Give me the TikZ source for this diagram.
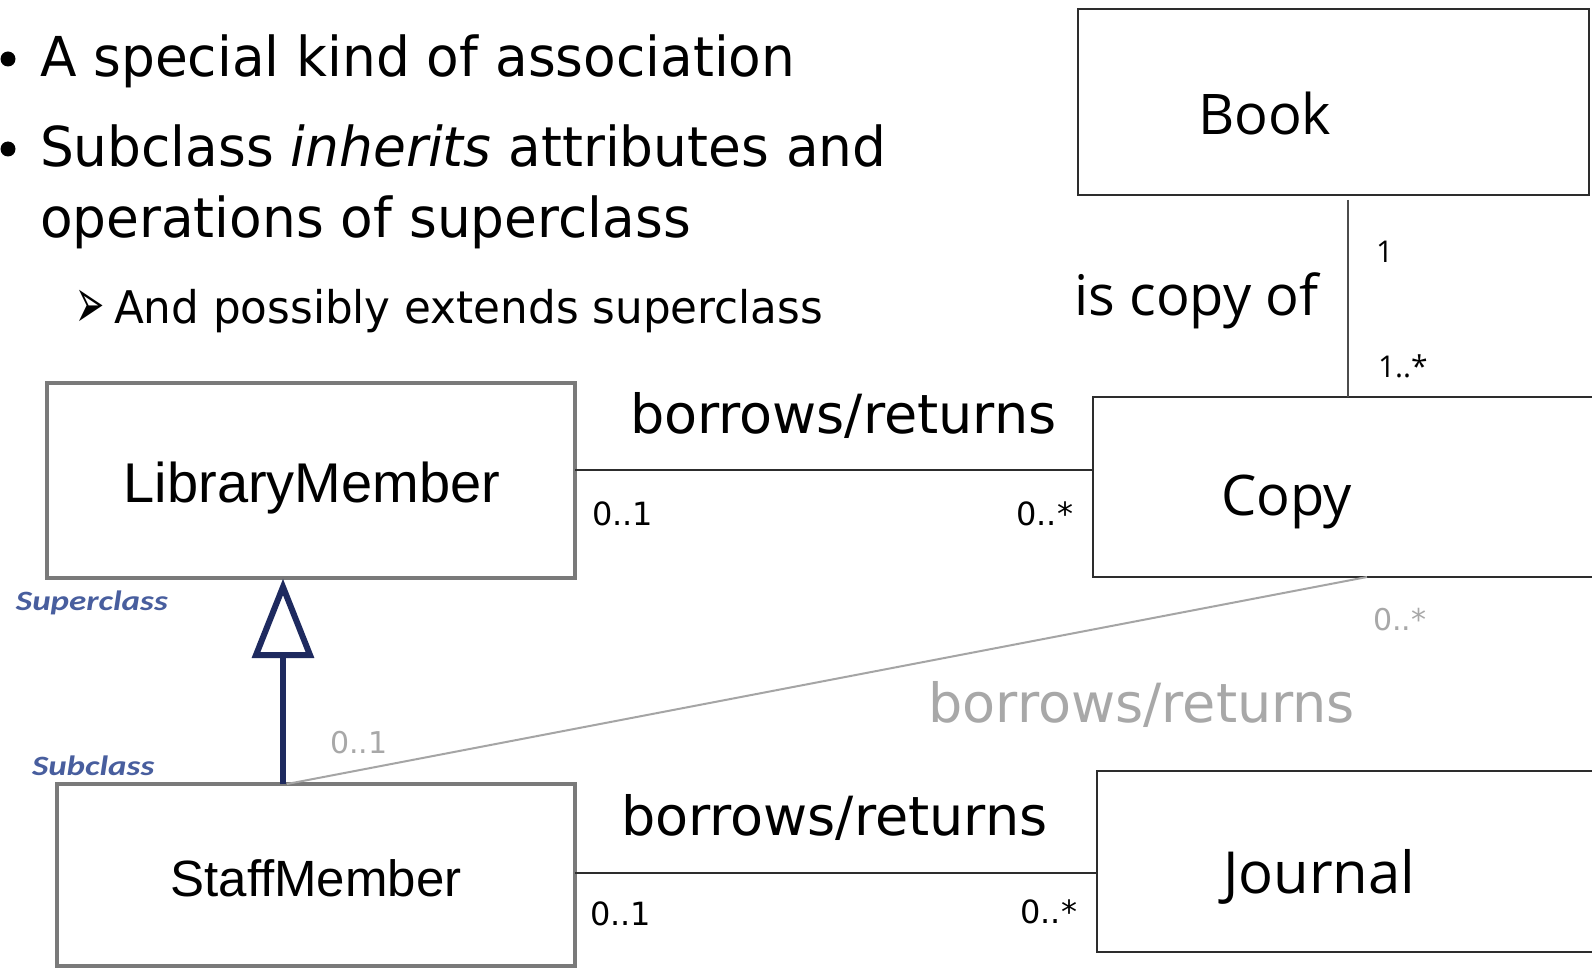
\documentclass[tikz,border=0pt]{standalone}
\usepackage{fontspec}
\newfontfamily\slidefont[FakeStretch=0.97]{DejaVu Sans}
\newfontfamily\assocfont{DejaVu Sans}
\newfontfamily\classfont{Open Sans}
\newfontfamily\arialfont{Liberation Sans}
\newfontfamily\notefont[FakeStretch=1.25]{Carlito}
\definecolor{inhnavy}{RGB}{30,42,95}
\definecolor{noteblue}{RGB}{72,94,158}
\definecolor{fadetext}{RGB}{168,168,168}
\definecolor{fadeline}{RGB}{165,165,165}
\definecolor{boxgray}{RGB}{122,122,122}
\definecolor{inkgray}{RGB}{45,45,45}
\tikzset{
  txt/.style={inner sep=0pt, outer sep=0pt},
  dot/.style={circle, fill=black, inner sep=0pt, minimum size=15pt},
  bigline/.style={txt, anchor=base west, font=\slidefont\fontsize{55}{60}\selectfont},
  subline/.style={txt, anchor=base west, font=\slidefont\fontsize{45}{50}\selectfont},
  classbox/.style={draw=inkgray, line width=2.4pt, inner sep=0pt, outer sep=0pt, fill=white},
  memberbox/.style={draw=boxgray, line width=4.5pt, inner sep=0pt, outer sep=0pt, fill=white},
  classname/.style={txt, anchor=base west, font=\classfont\fontsize{56}{60}\selectfont},
  membername/.style={txt, anchor=base, font=\arialfont\fontsize{56}{60}\selectfont},
  assocname/.style={txt, anchor=base west, font=\assocfont\fontsize{54}{58}\selectfont},
  mult/.style={txt, font=\assocfont\fontsize{32}{36}\selectfont},
  note/.style={txt, anchor=base west, text=noteblue, font=\notefont\bfseries\itshape\fontsize{28}{30}\selectfont},
  assoc/.style={draw=inkgray, line width=2.4pt},
}
\begin{document}
\begin{tikzpicture}[x=1pt, y=-1pt]
\useasboundingbox[fill=white] (0,0) rectangle (1592,968);

% bullet list
\node[dot] (b1) at (8,59) {};
\node[bigline] (t1) at (40,77) {A special kind of association};
\node[dot] (b2) at (8,149) {};
\node[bigline] (t2) at (40,167) {Subclass \textit{inherits} attributes and};
\node[bigline] (t3) at (40,238) {operations of superclass};
\node[txt, anchor=base west, font=\slidefont\fontsize{36}{40}\selectfont] (b3) at (75,328) {\scalebox{1}[2]{➢}};
\node[subline] (t4) at (114,323) {And possibly extends superclass};

% classes
\node[classbox, minimum width=511pt, minimum height=186pt] (book) at (1333.5,102) {};
\node[classbox, minimum width=527pt, minimum height=180pt] (copy) at (1356.5,487) {};
\node[classbox, minimum width=523pt, minimum height=181pt] (journal) at (1358.5,861.5) {};
\node[memberbox, minimum width=528pt, minimum height=195pt] (lib) at (311,480.5) {};
\node[memberbox, minimum width=518pt, minimum height=182pt] (staff) at (316,875) {};

\node[classname] (bookname) at (1198,135) {Book};
\node[classname] (copyname) at (1221,515) {Copy};
\node[classname, font=\classfont\fontsize{58}{60}\selectfont] (journalname) at (1223,893) {Journal};
\node[membername] (libname) at (312,502) {LibraryMember};
\node[membername, font=\arialfont\fontsize{51}{56}\selectfont] (staffname) at (316,896) {StaffMember};

% is copy of
\draw[draw=black!70, line width=2.2pt] ([xshift=14.5pt, yshift=-5pt]book.south) -- ([xshift=-8.5pt]copy.north);
\node[classname] (copyof) at (1074,315) {is copy of};
\node[mult, anchor=base west, font=\classfont\fontsize{30}{34}\selectfont] (m1) at (1376,263) {1};
\node[mult, anchor=base west, font=\classfont\fontsize{30}{34}\selectfont] (m2) at (1378,377) {1..*};

% LibraryMember -- Copy
\draw[assoc] ([yshift=10.5pt]lib.east) -- ([yshift=17pt]copy.west);
\node[assocname] (a1) at (630,433) {borrows/returns};
\node[mult, anchor=base west] (a1l) at (592,525) {0..1};
\node[mult, anchor=base east] (a1r) at (1073,525) {0..*};

% StaffMember -- Journal
\draw[assoc] ([yshift=2pt]staff.east) -- ([yshift=-11.5pt]journal.west);
\node[assocname] (a2) at (621,835) {borrows/returns};
\node[mult, anchor=base west] (a2l) at (590,925) {0..1};
\node[mult, anchor=base east] (a2r) at (1077,923) {0..*};

% StaffMember -- Copy (inherited association)
\draw[draw=fadeline, line width=2pt] ([xshift=-29pt]staff.north) -- ([xshift=10.5pt]copy.south);
\node[assocname, anchor=base east, text=fadetext] (a3) at (1355,722) {borrows/returns};
\node[mult, anchor=base west, text=fadetext, font=\assocfont\fontsize{30}{34}\selectfont] (a3l) at (330,753) {0..1};
\node[mult, anchor=base west, text=fadetext, font=\assocfont\fontsize{30}{34}\selectfont] (a3r) at (1373,630) {0..*};

% generalisation
\coordinate (tip) at ([xshift=-28pt, yshift=-9pt]lib.south);
\coordinate (base) at ([xshift=-28pt, yshift=-77pt]lib.south);
\draw[draw=inhnavy, line width=6pt] ([xshift=-33pt]staff.north) -- (base);
\draw[draw=inhnavy, line width=6pt, fill=white, line join=miter]
  (tip) -- ([xshift=-27pt]base) -- ([xshift=27pt]base) -- cycle;
\node[note] (sup) at (16,610) {Superclass};
\node[note] (sub) at (32,775) {Subclass};
\end{tikzpicture}
\end{document}
